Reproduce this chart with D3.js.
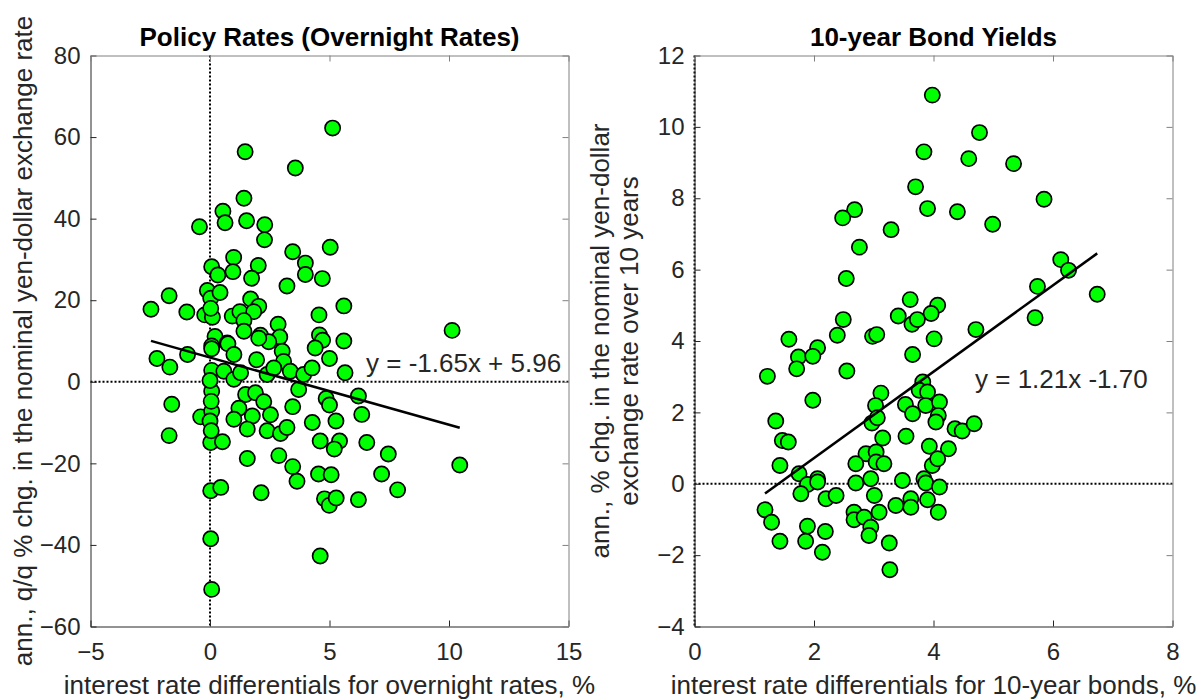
<!DOCTYPE html>
<html>
<head>
<meta charset="utf-8">
<script src="https://cdn.jsdelivr.net/npm/d3@7"></script>
<style>
  body { margin: 0; background: #fff; }
  svg { display: block; font-family: Arial, "Liberation Sans", sans-serif; }
</style>
</head>
<body>
<div id="chart"></div>
<script>
// policy rates: [rate differential %, ann. q/q % chg]
var policyPoints = [
  [5.13,62.2],[1.47,56.4],[3.57,52.4],[1.42,45.0],[0.54,41.8],[0.63,39.0],[-0.44,38.0],[1.53,39.5],
  [2.29,38.5],[2.28,34.8],[5.03,33.0],[3.46,31.9],[3.99,29.1],[3.99,26.3],[4.70,25.3],[3.22,23.5],
  [0.99,30.5],[0.96,27.0],[2.02,28.5],[1.74,25.4],[0.07,28.2],[0.33,26.2],[-0.11,22.4],[0.03,20.5],
  [0.42,21.9],[-1.71,21.1],[-2.47,17.8],[-0.97,17.1],[-0.22,16.4],[0.10,15.8],[0.03,18.0],[0.93,16.1],
  [1.70,20.3],[2.04,18.5],[1.25,17.2],[1.83,17.2],[1.42,15.0],[1.42,12.4],[2.85,14.1],[2.92,11.0],
  [2.11,11.4],[2.46,9.8],[4.56,16.4],[4.58,11.5],[4.71,10.2],[5.60,18.6],[0.21,11.1],[0.72,9.5],
  [0.07,8.8],[10.13,12.6],[5.60,10.0],
  [-2.22,5.7],[-1.68,3.6],[-0.94,6.7],[0.07,8.1],[0.75,9.3],[1.00,6.7],[2.04,10.7],[3.02,7.5],
  [1.95,5.4],[3.08,5.0],[4.40,8.3],[5.00,5.7],[5.65,2.2],[0.07,2.8],[0.58,2.6],[1.00,0.6],
  [1.28,2.2],[2.39,1.8],[2.67,3.4],[3.36,2.6],[3.92,1.8],[4.27,3.4],[3.71,-1.9],[0.07,-2.3],
  [1.49,-3.1],[1.90,-2.7],[2.25,-4.9],[1.21,-6.5],[1.00,-9.2],[1.77,-8.4],[2.53,-8.1],[1.56,-11.6],
  [2.39,-12.0],[2.95,-12.7],[3.22,-11.2],[3.46,-6.1],[4.86,-4.1],[5.00,-5.7],[6.21,-3.5],[6.35,-8.0],
  [4.28,-10.0],[5.27,-9.6],[4.61,-14.5],[5.42,-14.5],[5.20,-16.5],[6.56,-14.9],[-1.60,-5.5],[-1.71,-13.2],
  [-0.39,-8.6],[0.07,-7.2],[0.03,-14.9],[0.52,-14.7],[1.56,-18.8],[2.88,-18.1],[3.46,-20.8],[3.64,-24.4],
  [4.54,-22.6],[5.07,-22.8],[7.18,-22.6],[7.46,-17.7],[0.00,0.3],[0.05,-4.8],[0.00,-9.6],[0.05,-12.0],
  [0.03,-26.7],[0.45,-25.9],[2.14,-27.2],[0.03,-38.5],[0.07,-50.9],[4.61,-42.7],[4.79,-28.7],[4.99,-30.3],
  [5.28,-28.5],[6.21,-28.9],[7.85,-26.5],[10.45,-20.4]
];

// 10-year bonds: [yield differential %, ann. % chg over 10 years]
var bondPoints = [
  [3.98,10.89],[3.84,9.30],[3.70,8.32],[3.90,7.71],[2.68,7.68],[2.48,7.45],[3.29,7.12],[2.76,6.63],
  [2.54,5.75],[3.61,5.16],[4.07,5.00],[3.96,4.77],[3.41,4.70],[3.64,4.47],[3.73,4.60],[2.49,4.60],
  [2.39,4.16],[1.58,4.05],[2.06,3.81],[2.98,4.13],[3.05,4.18],[4.01,4.06],
  [4.77,9.84],[4.59,9.11],[5.34,8.97],[4.40,7.62],[4.99,7.27],[5.85,7.97],[6.13,6.28],[6.26,5.98],
  [5.74,5.53],[6.74,5.31],[5.70,4.65],[4.71,4.32],
  [3.65,3.62],[1.74,3.55],[1.98,3.57],[1.71,3.22],[1.22,3.01],[2.55,3.16],[1.98,2.34],[3.12,2.54],
  [3.82,2.85],[3.76,2.62],[3.90,2.57],[3.03,2.19],[3.53,2.22],[3.65,1.96],[3.87,2.19],[4.10,2.29],
  [4.08,1.91],[4.04,1.73],[2.97,1.70],[3.06,1.85],[1.36,1.76],[4.36,1.54],[4.48,1.48],[4.68,1.68],
  [3.15,1.28],[3.54,1.33],[1.47,1.21],[1.57,1.17],[3.93,1.05],[4.25,0.98],[2.87,0.84],[3.04,0.89],
  [2.70,0.56],[3.04,0.61],[3.17,0.56],[3.98,0.51],[4.07,0.70],[1.43,0.51],[1.75,0.28],[2.06,0.14],
  [3.48,0.09],[3.84,0.14],
  [1.89,-0.02],[2.06,0.05],[1.78,-0.28],[2.20,-0.42],[2.37,-0.33],[2.70,0.02],[2.95,0.14],[3.01,-0.33],
  [3.87,0.02],[4.10,-0.09],[3.62,-0.42],[3.90,-0.45],[3.62,-0.66],[3.37,-0.61],[3.09,-0.80],[4.08,-0.80],
  [2.67,-0.80],[2.67,-1.01],[2.84,-0.94],[2.95,-1.22],[2.92,-1.45],[3.26,-1.66],[3.27,-2.41],[1.18,-0.73],
  [1.29,-1.08],[1.43,-1.61],[1.89,-1.19],[1.86,-1.61],[2.19,-1.34],[2.14,-1.92]
];

var policyXTicks = [-5, 0, 5, 10, 15];
var policyYTicks = [-60, -40, -20, 0, 20, 40, 60, 80];
var bondXTicks = [0, 2, 4, 6, 8];
var bondYTicks = [-4, -2, 0, 2, 4, 6, 8, 10, 12];

var policyFit = [-1.65, 5.96];   // slope, intercept
var bondFit = [1.21, -1.70];

var W = 1201, H = 700;
var svg = d3.select('#chart').append('svg').attr('width', W).attr('height', H);

function drawPanel(p) {
  var x = d3.scaleLinear().domain(p.xDomain).range([p.left, p.right]);
  var y = d3.scaleLinear().domain(p.yDomain).range([p.bottom, p.top]);
  var g = svg.append('g');

  // zero reference lines (dotted)
  g.append('line')
    .attr('x1', x(0)).attr('x2', x(0)).attr('y1', p.top).attr('y2', p.bottom)
    .attr('stroke', '#000').attr('stroke-width', 2).attr('stroke-dasharray', '2,2');
  g.append('line')
    .attr('x1', p.left).attr('x2', p.right).attr('y1', y(0)).attr('y2', y(0))
    .attr('stroke', '#000').attr('stroke-width', 2).attr('stroke-dasharray', '2,2');

  // points
  g.selectAll('circle.pt').data(p.points).enter().append('circle')
    .attr('class', 'pt')
    .attr('cx', function(d) { return x(d[0]); })
    .attr('cy', function(d) { return y(d[1]); })
    .attr('r', 7.6)
    .attr('fill', '#00ff00')
    .attr('stroke', '#000')
    .attr('stroke-width', 1.7);

  // regression line over data range
  var xs = d3.extent(p.points, function(d) { return d[0]; });
  g.append('line')
    .attr('x1', x(xs[0])).attr('y1', y(p.fit[0] * xs[0] + p.fit[1]))
    .attr('x2', x(xs[1])).attr('y2', y(p.fit[0] * xs[1] + p.fit[1]))
    .attr('stroke', '#000').attr('stroke-width', 2.5);

  g.append('text')
    .attr('x', p.eqPos[0]).attr('y', p.eqPos[1])
    .attr('font-size', 26).attr('fill', '#262626')
    .text(p.eqText);

  // axes (box with inward ticks)
  var bottom = g.append('g').attr('transform', 'translate(0,' + p.bottom + ')')
    .call(d3.axisBottom(x).tickValues(p.xTicks).tickSizeInner(-6).tickSizeOuter(0).tickPadding(16));
  var left = g.append('g').attr('transform', 'translate(' + p.left + ',0)')
    .call(d3.axisLeft(y).tickValues(p.yTicks).tickSizeInner(-6).tickSizeOuter(0).tickPadding(10));
  var top = g.append('g').attr('transform', 'translate(0,' + p.top + ')')
    .call(d3.axisTop(x).tickValues(p.xTicks).tickSizeInner(-6).tickSizeOuter(0).tickFormat(''));
  var right = g.append('g').attr('transform', 'translate(' + p.right + ',0)')
    .call(d3.axisRight(y).tickValues(p.yTicks).tickSizeInner(-6).tickSizeOuter(0).tickFormat(''));

  [bottom, left].forEach(function(a) {
    a.select('.domain').attr('stroke', '#262626');
    a.selectAll('.tick line').attr('stroke', '#262626');
    a.selectAll('.tick text').attr('font-size', 24).attr('fill', '#262626')
      .attr('font-family', 'Arial, "Liberation Sans", sans-serif');
  });
  [top, right].forEach(function(a) {
    a.select('.domain').attr('stroke', '#808080');
    a.selectAll('.tick line').attr('stroke', '#808080');
  });

  // title
  g.append('text')
    .attr('x', (p.left + p.right) / 2).attr('y', 46)
    .attr('text-anchor', 'middle').attr('font-size', 26).attr('font-weight', 'bold')
    .attr('fill', '#000')
    .text(p.title);

  // x label
  g.append('text')
    .attr('x', (p.left + p.right) / 2).attr('y', 694)
    .attr('text-anchor', 'middle').attr('font-size', 26).attr('fill', '#262626')
    .text(p.xLabel);

  // y label (one or more lines)
  var cy = (p.top + p.bottom) / 2;
  p.yLabel.forEach(function(line, i) {
    var bx = p.yLabelX + i * 29;
    g.append('text')
      .attr('transform', 'translate(' + bx + ',' + cy + ') rotate(-90)')
      .attr('text-anchor', 'middle').attr('font-size', 26).attr('fill', '#262626')
      .text(line);
  });
}

drawPanel({
  points: policyPoints,
  xDomain: [-5, 15], yDomain: [-60, 80],
  xTicks: policyXTicks, yTicks: policyYTicks,
  left: 90.5, right: 568.5, top: 55.5, bottom: 626.5,
  fit: policyFit, eqText: 'y = -1.65x + 5.96', eqPos: [366, 372],
  title: 'Policy Rates (Overnight Rates)',
  xLabel: 'interest rate differentials for overnight rates, %',
  yLabel: ['ann., q/q % chg. in the nominal yen-dollar exchange rate'],
  yLabelX: 32
});

drawPanel({
  points: bondPoints,
  xDomain: [0, 8], yDomain: [-4, 12],
  xTicks: bondXTicks, yTicks: bondYTicks,
  left: 694.5, right: 1172.5, top: 55.5, bottom: 626.5,
  fit: bondFit, eqText: 'y = 1.21x -1.70', eqPos: [975, 388],
  title: '10-year Bond Yields',
  xLabel: 'interest rate differentials for 10-year bonds, %',
  yLabel: ['ann., % chg. in the nominal yen-dollar', 'exchange rate over 10 years'],
  yLabelX: 609
});
</script>
</body>
</html>
